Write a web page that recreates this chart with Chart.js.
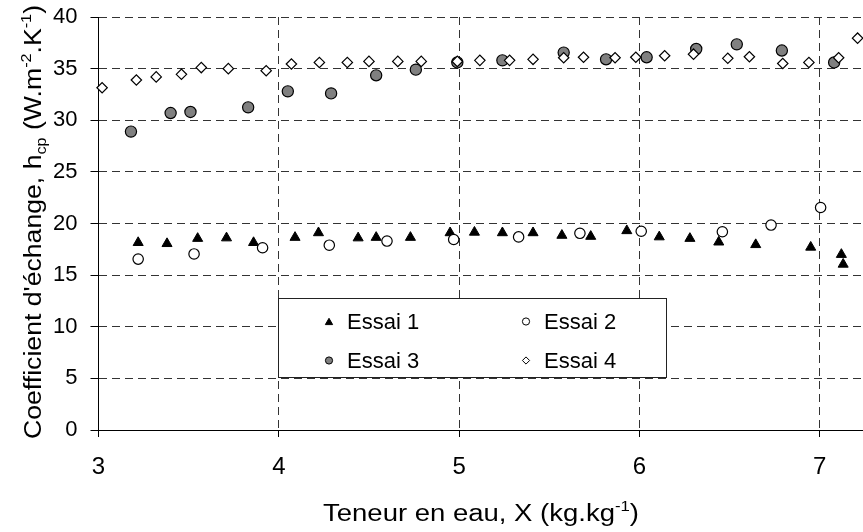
<!DOCTYPE html>
<html>
<head>
<meta charset="utf-8">
<script src="https://cdn.jsdelivr.net/npm/chart.js@4.4.1/dist/chart.umd.min.js"></script>
<style>
  html, body { margin: 0; padding: 0; background: #fff; }
  #wrap { width: 863px; height: 532px; }
</style>
</head>
<body>
<div id="wrap"><canvas id="mycanvas" width="863" height="532"></canvas></div>
<script>
// values
var essai1X = [3.22, 3.38, 3.55, 3.71, 3.86, 4.09, 4.22, 4.44, 4.54, 4.73, 4.95, 5.085, 5.24, 5.41, 5.57, 5.73, 5.93, 6.11, 6.28, 6.44, 6.645, 6.95, 7.12, 7.13];
var essai1Y = [18.15, 18.05, 18.55, 18.6, 18.15, 18.65, 19.1, 18.6, 18.65, 18.65, 19.1, 19.15, 19.1, 19.1, 18.85, 18.75, 19.3, 18.7, 18.55, 18.2, 17.95, 17.7, 17.0, 16.05];

var essai2X = [3.22, 3.53, 3.91, 4.28, 4.60, 4.97, 5.33, 5.67, 6.01, 6.46, 6.73, 7.005];
var essai2Y = [16.55, 17.05, 17.65, 17.9, 18.3, 18.45, 18.7, 19.05, 19.25, 19.2, 19.85, 21.55];

var essai3X = [3.18, 3.40, 3.51, 3.83, 4.05, 4.29, 4.54, 4.76, 4.99, 5.24, 5.58, 5.815, 6.04, 6.315, 6.54, 6.79, 7.08];
var essai3Y = [28.9, 30.7, 30.8, 31.25, 32.8, 32.6, 34.35, 34.9, 35.6, 35.8, 36.55, 35.9, 36.1, 36.9, 37.35, 36.75, 35.6];

var essai4X = [3.02, 3.21, 3.32, 3.46, 3.57, 3.72, 3.93, 4.07, 4.225, 4.38, 4.50, 4.66, 4.79, 4.99, 5.115, 5.28, 5.41, 5.58, 5.69, 5.865, 5.98, 6.14, 6.30, 6.49, 6.61, 6.795, 6.94, 7.105, 7.21];
var essai4Y = [33.15, 33.9, 34.2, 34.45, 35.1, 35.0, 34.8, 35.45, 35.6, 35.6, 35.7, 35.7, 35.7, 35.7, 35.8, 35.8, 35.9, 36.05, 36.1, 36.05, 36.1, 36.25, 36.4, 36.0, 36.15, 35.5, 35.6, 36.05, 37.95];

var seriesNames = ["Essai 1", "Essai 2", "Essai 3", "Essai 4"];
var xTicks = [3, 4, 5, 6, 7];
var yTicks = [0, 5, 10, 15, 20, 25, 30, 35, 40];

var FONT = "'Liberation Sans', Arial, sans-serif";

function pts(xs, ys) {
	var out = [];
	for (var i in xs) {
		out.push({x: xs[i], y: ys[i]});
	}
	return out;
}

// draws text with sub / superscript parts, squeezed or stretched to a given width
function drawRich(ctx, parts, size, targetW) {
	var small = Math.round(size * 0.62);
	var w = 0;
	for (var i = 0; i < parts.length; i++) {
		ctx.font = (parts[i].s ? small : size) + "px " + FONT;
		parts[i].w = ctx.measureText(parts[i].t).width;
		w += parts[i].w;
	}
	var k = targetW / w;
	ctx.scale(k, 1);
	var x = -w / 2;
	ctx.textAlign = "left";
	ctx.textBaseline = "alphabetic";
	ctx.fillStyle = "#000";
	for (var j = 0; j < parts.length; j++) {
		var p = parts[j];
		ctx.font = (p.s ? small : size) + "px " + FONT;
		var dy = 0;
		if (p.s === "sup") dy = -size * 0.42;
		if (p.s === "sub") dy = size * 0.22;
		ctx.fillText(p.t, x, dy);
		x += p.w;
	}
}

var titlesPlugin = {
	id: "titles",
	afterDraw: function(chart) {
		var ctx = chart.ctx;

		ctx.save();
		ctx.translate(481, 521);
		drawRich(ctx, [
			{t: "Teneur en eau, X (kg.kg"},
			{t: "-1", s: "sup"},
			{t: ")"}
		], 23, 316);
		ctx.restore();

		ctx.save();
		ctx.translate(41, 222);
		ctx.rotate(-Math.PI / 2);
		drawRich(ctx, [
			{t: "Coefficient d'échange, h"},
			{t: "cp", s: "sub"},
			{t: " (W.m"},
			{t: "-2", s: "sup"},
			{t: ".K"},
			{t: "-1", s: "sup"},
			{t: ")"}
		], 23, 434);
		ctx.restore();
	}
};

var legendPlugin = {
	id: "boxLegend",
	afterDatasetsDraw: function(chart) {
		var ctx = chart.ctx;
		var box = {x: 278.5, y: 298.5, w: 388, h: 79};
		ctx.save();
		ctx.fillStyle = "#fff";
		ctx.strokeStyle = "#222";
		ctx.lineWidth = 1;
		ctx.fillRect(box.x, box.y, box.w, box.h);
		ctx.strokeRect(box.x, box.y, box.w, box.h);

		var cols = [329, 526];
		var rows = [321.5, 360.5];
		ctx.font = "22px " + FONT;
		ctx.textAlign = "left";
		ctx.textBaseline = "middle";
		for (var i = 0; i < chart.data.datasets.length; i++) {
			var ds = chart.data.datasets[i];
			var cx = cols[i % 2];
			var cy = rows[Math.floor(i / 2)];
			ctx.fillStyle = ds.backgroundColor;
			ctx.strokeStyle = ds.borderColor;
			ctx.lineWidth = 1;
			Chart.helpers.drawPoint(ctx, {pointStyle: ds.pointStyle, rotation: 0, radius: ds.pointStyle === "triangle" ? 4.2 : 3.6, borderWidth: 1}, cx, cy + (ds.pointStyle === "triangle" ? 1 : 0));
			ctx.fillStyle = "#000";
			ctx.fillText(ds.label, cx + 18, cy + 1);
		}
		ctx.restore();
	}
};

var chartdata = {
	datasets: [
		{
			label: seriesNames[0],
			data: pts(essai1X, essai1Y),
			pointStyle: "triangle",
			pointRadius: 5.8,
			backgroundColor: "#000",
			borderColor: "#000",
			borderWidth: 1,
			clip: false,
			order: 4
		},
		{
			label: seriesNames[1],
			data: pts(essai2X, essai2Y),
			pointStyle: "circle",
			pointRadius: 5.2,
			backgroundColor: "#fff",
			borderColor: "#000",
			borderWidth: 1.2,
			clip: false,
			order: 3
		},
		{
			label: seriesNames[2],
			data: pts(essai3X, essai3Y),
			pointStyle: "circle",
			pointRadius: 5.6,
			backgroundColor: "#808080",
			borderColor: "#000",
			borderWidth: 1.2,
			clip: false,
			order: 2
		},
		{
			label: seriesNames[3],
			data: pts(essai4X, essai4Y),
			pointStyle: "rectRot",
			pointRadius: 5.2,
			backgroundColor: "#fff",
			borderColor: "#000",
			borderWidth: 1.2,
			clip: false,
			order: 1
		}
	]
};

var ctx = document.getElementById("mycanvas");

var ScatterGraph = new Chart(ctx, {
	type: "scatter",
	data: chartdata,
	plugins: [legendPlugin, titlesPlugin],
	options: {
		responsive: false,
		animation: false,
		devicePixelRatio: 1,
		layout: {autoPadding: false, padding: {left: 0, right: 0, top: 17, bottom: 0}},
		plugins: {
			legend: {display: false},
			tooltip: {enabled: false}
		},
		scales: {
			x: {
				type: "linear",
				min: 3,
				max: 7.24,
				afterBuildTicks: function(scale) {
					scale.ticks = xTicks.map(function(v) { return {value: v}; });
				},
				afterFit: function(scale) {
					scale.height = 102;
					scale.paddingLeft = 0;
					scale.paddingRight = 0;
				},
				grid: {
					color: "#333",
					lineWidth: 1,
					tickLength: 7,
					tickColor: "#000"
				},
				border: {color: "#000", width: 1, dash: [8, 5]},
				ticks: {
					color: "#000",
					padding: 16,
					maxRotation: 0,
					font: {family: FONT, size: 24}
				}
			},
			y: {
				type: "linear",
				min: 0,
				max: 40,
				afterBuildTicks: function(scale) {
					scale.ticks = yTicks.map(function(v) { return {value: v}; });
				},
				afterFit: function(scale) {
					scale.width = 98.5;
					scale.paddingTop = 0;
					scale.paddingBottom = 0;
				},
				grid: {
					color: "#333",
					lineWidth: 1,
					tickLength: 8,
					tickColor: "#000"
				},
				border: {color: "#000", width: 1, dash: [8, 5]},
				ticks: {
					color: "#000",
					padding: 13,
					font: {family: FONT, size: 22}
				}
			}
		}
	}
});
</script>
</body>
</html>
